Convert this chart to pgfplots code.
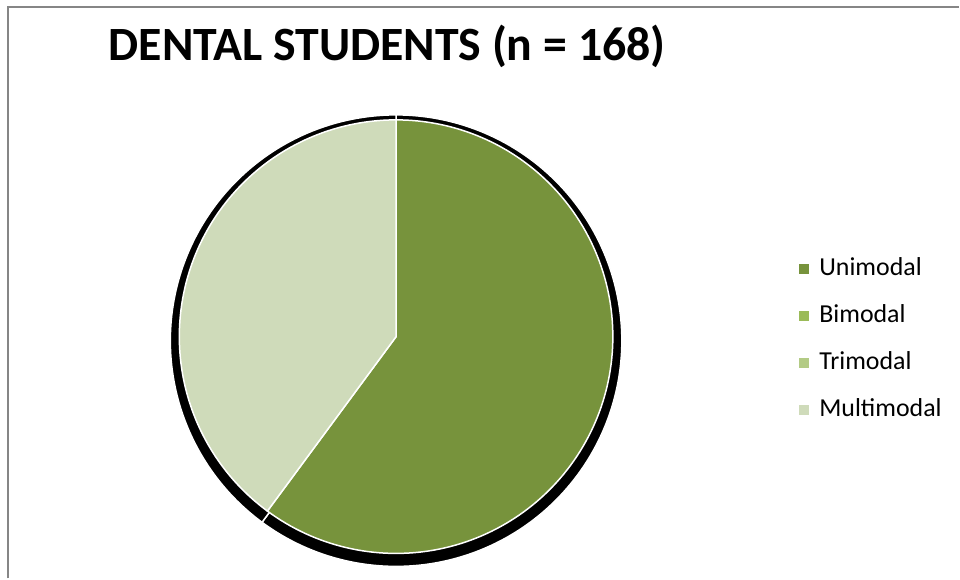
\documentclass[border=0pt]{standalone}
\usepackage{pgfplots}
\pgfplotsset{compat=1.18}
\usepackage{pgfplotstable}
\usepackage{fontspec}
\setmainfont{Carlito}
\definecolor{cUni}{HTML}{77933C}
\definecolor{cBi}{HTML}{9BBB59}
\definecolor{cTri}{HTML}{B3CB85}
\definecolor{cMulti}{HTML}{CFDBBA}
\definecolor{cFrame}{HTML}{868686}

\pgfplotstableread{
label value
Unimodal 101
Bimodal 0
Trimodal 0
Multimodal 67
}\datatable
\pgfplotstablegetelem{0}{value}\of\datatable \let\vUni\pgfplotsretval
\pgfplotstablegetelem{1}{value}\of\datatable \let\vBi\pgfplotsretval
\pgfplotstablegetelem{2}{value}\of\datatable \let\vTri\pgfplotsretval
\pgfplotstablegetelem{3}{value}\of\datatable \let\vMulti\pgfplotsretval
\pgfmathsetmacro{\total}{\vUni+\vBi+\vTri+\vMulti}
\pgfmathsetmacro{\aA}{90}
\pgfmathsetmacro{\aB}{\aA-360*(\vUni/\total)}
\pgfmathsetmacro{\aC}{\aB-360*(\vBi/\total)}
\pgfmathsetmacro{\aD}{\aC-360*(\vTri/\total)}
\pgfmathsetmacro{\aE}{\aD-360*(\vMulti/\total)}

\begin{document}
\begin{tikzpicture}
\begin{axis}[
  hide axis, scale only axis,
  width=960bp, height=579bp,
  xmin=0, xmax=960, ymin=0, ymax=579,
  clip=false,
  legend image code/.code={\fill[#1, draw=none] (0bp,-5bp) rectangle (10bp,5bp);},
  legend cell align=left,
  legend style={at={(axis cs:797,323)}, anchor=north west, draw=none, fill=none,
    font=\fontsize{26}{26}\selectfont,
    nodes={inner sep=0pt, text height=18bp, text depth=5bp},
    row sep=24bp,
    /tikz/every odd column/.append style={column sep=10bp}},
]
\path (rel axis cs:0,0) rectangle (rel axis cs:1,1);
% frame
\draw[color=cFrame, line width=2bp] (axis cs:8.5,0) -- (axis cs:8.5,571.5) -- (axis cs:960,571.5);
% shadows
\addplot[forget plot, fill=black, draw=white, line width=1.5bp, domain=\aB:\aA, samples=150]
  ({396.5+226*cos(x)},{238+226*sin(x)}) -- (axis cs:396.5,238) -- cycle;
\addplot[forget plot, fill=black, draw=white, line width=1.5bp, domain=\aE:\aD, samples=150]
  ({396.5+226*cos(x)},{238+226*sin(x)}) -- (axis cs:396.5,238) -- cycle;
% slices
\addplot[forget plot, fill=cUni, draw=white, line width=1.5bp, domain=\aB:\aA, samples=150]
  ({396.5+217*cos(x)},{242+217*sin(x)}) -- (axis cs:396.5,242) -- cycle;
\addplot[forget plot, fill=cMulti, draw=white, line width=1.5bp, domain=\aE:\aD, samples=150]
  ({396.5+217*cos(x)},{242+217*sin(x)}) -- (axis cs:396.5,242) -- cycle;
% legend
\addlegendimage{fill=cUni}\addlegendentry{Unimodal}
\addlegendimage{fill=cBi}\addlegendentry{Bimodal}
\addlegendimage{fill=cTri}\addlegendentry{Trimodal}
\addlegendimage{fill=cMulti}\addlegendentry{Multimodal}
% title
\node[font=\fontsize{48}{48}\selectfont\bfseries, anchor=base] at (axis cs:387.5,518) {DENTAL STUDENTS (n = 168)};
\end{axis}
\end{tikzpicture}
\end{document}
